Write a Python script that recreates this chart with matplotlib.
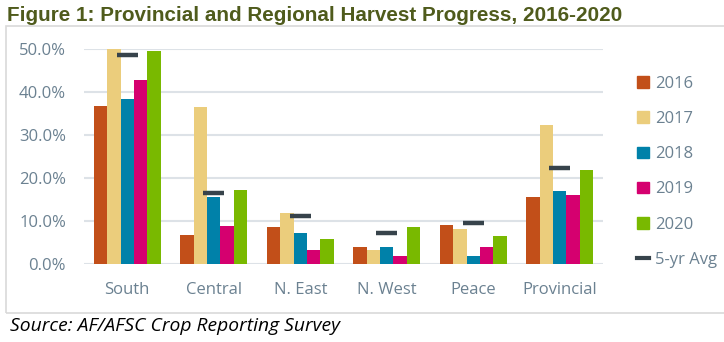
import matplotlib
matplotlib.use("Agg")
import matplotlib.pyplot as plt
from matplotlib.patches import Rectangle
from matplotlib.lines import Line2D
from matplotlib import font_manager
import numpy as np

categories = ["South", "Central", "N. East", "N. West", "Peace", "Provincial"]
years = ["2016", "2017", "2018", "2019", "2020"]
v2016 = [36.6, 6.7, 8.6, 3.9, 9.0, 15.5]
v2017 = [50.5, 36.5, 11.8, 3.3, 8.2, 32.4]
v2018 = [38.3, 15.7, 7.3, 3.9, 1.9, 17.1]
v2019 = [42.7, 8.9, 3.3, 2.0, 3.9, 16.0]
v2020 = [49.4, 17.3, 5.9, 8.7, 6.6, 21.9]
avg5 = [48.5, 16.5, 11.2, 7.2, 9.6, 22.4]
yticks = [0, 10, 20, 30, 40, 50]

colors = ["#C24F19", "#EBCD7C", "#0081A9", "#D5006F", "#79B900"]
avg_color = "#37434B"
tick_color = "#6B8191"
grid_color = "#DDE2E7"

names = {f.name for f in font_manager.fontManager.ttflist}
narrow = "Liberation Sans Narrow" if "Liberation Sans Narrow" in names else "Liberation Sans"
body = "Open Sans"

W, H = 724, 342
fig = plt.figure(figsize=(W / 100, H / 100), dpi=100)

# border box
fig.patches.append(Rectangle((6 / W, 1 - 313 / H), 730 / W, (313 - 26) / H,
                             transform=fig.transFigure, fill=False,
                             edgecolor="#D9D9D9", lw=1.2))

ax = fig.add_axes([84 / W, 1 - 264.3 / H, (603 - 84) / W, (264.3 - 48.7) / H])

x = np.arange(len(categories))
bw = 0.154
series = [v2016, v2017, v2018, v2019, v2020]
for i, (vals, c, yr) in enumerate(zip(series, colors, years)):
    ax.bar(x + (i - 2) * bw, vals, width=bw, color=c, label=yr, zorder=3)

ax.hlines(avg5, x - 0.12, x + 0.12, colors=avg_color, lw=3.2, zorder=4)

ax.set_xlim(-0.5, len(categories) - 0.5)
ax.set_ylim(0, 50)
ax.set_yticks(yticks)
ax.set_yticklabels([f"{t:.1f}%" for t in yticks])
ax.set_xticks(x)
ax.set_xticklabels(categories)
for s in ax.spines.values():
    s.set_visible(False)
ax.grid(axis="y", color=grid_color, lw=1.5, zorder=0)
ax.tick_params(length=0, colors=tick_color, labelsize=12, pad=13)
ax.tick_params(axis="x", pad=13)
for lab in ax.get_xticklabels() + ax.get_yticklabels():
    lab.set_family(body)
    lab.set_color(tick_color)

handles = [Rectangle((0, 0), 1, 1, color=c) for c in colors]
handles.append(Line2D([0], [0], color=avg_color, lw=3))
labels = years + ["5-yr Avg"]
leg = fig.legend(handles, labels, loc="upper left", bbox_to_anchor=(622 / W, 1 - 61 / H),
                 frameon=False, handlelength=0.7, handleheight=0.7, handletextpad=0.4,
                 labelspacing=1.15, prop={"family": body, "size": 12})
for t in leg.get_texts():
    t.set_color(tick_color)

fig.text(7 / W, 1 - 21 / H, "Figure 1: Provincial and Regional Harvest Progress, 2016-2020",
         family=narrow, weight="bold", size=14.9, color="#4F5B1C", va="baseline")
fig.text(10 / W, 1 - 331 / H, "Source: AF/AFSC Crop Reporting Survey",
         family=body, style="italic", size=13.9, color="black", va="baseline")

fig.savefig("out.png", dpi=100)
